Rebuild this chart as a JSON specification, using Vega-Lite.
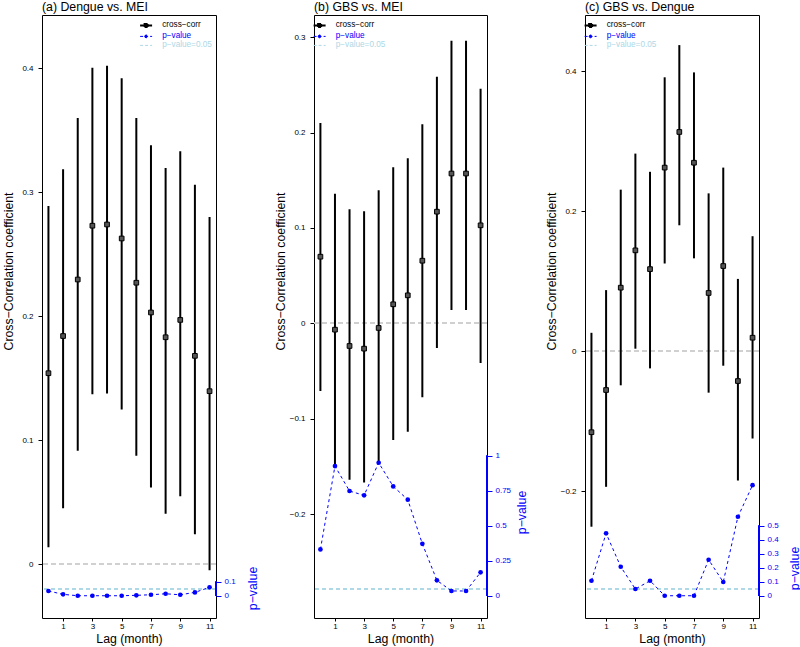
{
  "$schema": "https://vega.github.io/schema/vega-lite/v6.json",
  "padding": {"left": 1, "top": 0, "right": 0, "bottom": 0},
  "background": "white",
  "datasets": {
    "a": [
      {"lag": 0, "r": 0.154, "lo": 0.0135, "hi": 0.289, "p": 0.034},
      {"lag": 1, "r": 0.184, "lo": 0.045, "hi": 0.3185, "p": 0.010},
      {"lag": 2, "r": 0.2296, "lo": 0.0914, "hi": 0.360, "p": 0.0},
      {"lag": 3, "r": 0.273, "lo": 0.137, "hi": 0.4005, "p": 0.0},
      {"lag": 4, "r": 0.274, "lo": 0.1377, "hi": 0.402, "p": 0.0},
      {"lag": 5, "r": 0.2627, "lo": 0.1247, "hi": 0.392, "p": 0.0},
      {"lag": 6, "r": 0.227, "lo": 0.0874, "hi": 0.360, "p": 0.003},
      {"lag": 7, "r": 0.203, "lo": 0.0618, "hi": 0.338, "p": 0.007},
      {"lag": 8, "r": 0.183, "lo": 0.0406, "hi": 0.3196, "p": 0.014},
      {"lag": 9, "r": 0.197, "lo": 0.0548, "hi": 0.333, "p": 0.007},
      {"lag": 10, "r": 0.168, "lo": 0.024, "hi": 0.306, "p": 0.024},
      {"lag": 11, "r": 0.1395, "lo": -0.005, "hi": 0.280, "p": 0.06}
    ],
    "b": [
      {"lag": 0, "r": 0.0698, "lo": -0.071, "hi": 0.21, "p": 0.331},
      {"lag": 1, "r": -0.0067, "lo": -0.149, "hi": 0.1359, "p": 0.926},
      {"lag": 2, "r": -0.0238, "lo": -0.164, "hi": 0.1195, "p": 0.748},
      {"lag": 3, "r": -0.0266, "lo": -0.167, "hi": 0.1174, "p": 0.717},
      {"lag": 4, "r": -0.0049, "lo": -0.145, "hi": 0.1394, "p": 0.95},
      {"lag": 5, "r": 0.0199, "lo": -0.1223, "hi": 0.1635, "p": 0.781},
      {"lag": 6, "r": 0.0293, "lo": -0.1136, "hi": 0.173, "p": 0.686},
      {"lag": 7, "r": 0.0656, "lo": -0.0776, "hi": 0.2086, "p": 0.371},
      {"lag": 8, "r": 0.117, "lo": -0.026, "hi": 0.2585, "p": 0.11},
      {"lag": 9, "r": 0.157, "lo": 0.0139, "hi": 0.2962, "p": 0.034},
      {"lag": 10, "r": 0.157, "lo": 0.0139, "hi": 0.2962, "p": 0.034},
      {"lag": 11, "r": 0.1027, "lo": -0.0416, "hi": 0.246, "p": 0.167}
    ],
    "c": [
      {"lag": 0, "r": -0.116, "lo": -0.251, "hi": 0.026, "p": 0.107},
      {"lag": 1, "r": -0.0557, "lo": -0.194, "hi": 0.087, "p": 0.446},
      {"lag": 2, "r": 0.0905, "lo": -0.049, "hi": 0.2305, "p": 0.207},
      {"lag": 3, "r": 0.1438, "lo": 0.0033, "hi": 0.282, "p": 0.048},
      {"lag": 4, "r": 0.117, "lo": -0.0248, "hi": 0.256, "p": 0.107},
      {"lag": 5, "r": 0.262, "lo": 0.125, "hi": 0.391, "p": 0.0},
      {"lag": 6, "r": 0.3129, "lo": 0.1796, "hi": 0.437, "p": 0.0},
      {"lag": 7, "r": 0.269, "lo": 0.1324, "hi": 0.398, "p": 0.0},
      {"lag": 8, "r": 0.0829, "lo": -0.0595, "hi": 0.2252, "p": 0.257},
      {"lag": 9, "r": 0.1214, "lo": -0.021, "hi": 0.262, "p": 0.098},
      {"lag": 10, "r": -0.0429, "lo": -0.185, "hi": 0.103, "p": 0.564},
      {"lag": 11, "r": 0.019, "lo": -0.125, "hi": 0.164, "p": 0.79}
    ]
  },
  "hconcat": [
    {
      "width": 174, "height": 603,
      "title": {"text": "(a) Dengue vs. MEI", "anchor": "start", "frame": "group", "fontSize": 12.3, "fontWeight": "normal", "baseline": "alphabetic", "offset": -8, "color": "black"},
      "data": {"name": "a"},
      "layer": [
        {"layer": [
          {"mark": {"type": "rule", "color": "#d0d0d0", "strokeDash": [5, 3], "strokeWidth": 1},
           "encoding": {"y": {"datum": 0, "type": "quantitative"}}},
          {"mark": {"type": "rule", "strokeWidth": 2},
           "encoding": {
             "x": {"field": "lag", "type": "quantitative", "scale": {"domain": [-0.44, 11.44], "nice": false, "zero": false},
                   "axis": {"values": [1, 3, 5, 7, 9, 11], "format": "d", "title": "Lag (month)", "tickSize": 3, "labelPadding": 1, "titleY": 24.5, "titleBaseline": "alphabetic", "labelOverlap": false, "labelFlush": false, "labelBound": false}},
             "y": {"field": "lo", "type": "quantitative", "scale": {"domain": [-0.0435, 0.443], "nice": false, "zero": false},
                   "axis": {"values": [0, 0.1, 0.2, 0.3, 0.4], "format": ".1~f", "title": "Cross−Correlation coefficient", "titleX": -34, "titleY": 256, "titleAlign": "center", "titleBaseline": "middle", "tickSize": 4, "labelPadding": 5, "labelOverlap": false, "labelColor": "black", "tickColor": "black", "titleColor": "black"}},
             "y2": {"field": "hi"},
             "color": {"datum": "cross−corr", "type": "nominal",
                       "scale": {"domain": ["cross−corr", "p−value", "p−value=0.05"], "range": ["black", "blue", "#add8e6"]},
                       "legend": {"orient": "none", "legendX": 100, "legendY": 6.3, "title": null, "direction": "vertical", "labelFontSize": 8.2, "symbolSize": 100, "rowPadding": 0, "labelOffset": 12,
                         "encode": {
                           "symbols": {"update": {
                             "shape": {"signal": "datum.value === 'cross−corr' ? 'M-1.2,0H1.2M-0.3,-0.3H0.3V0.3H-0.3Z' : datum.value === 'p−value' ? 'M-1.2,0H1.2M-0.28,0A0.28,0.28 0 1,1 0.28,0A0.28,0.28 0 1,1 -0.28,0Z' : 'M-1.2,0H1.2'"},
                             "fill": {"signal": "datum.value === 'cross−corr' ? '#555555' : datum.value === 'p−value' ? 'blue' : 'transparent'"},
                             "stroke": {"signal": "datum.value === 'cross−corr' ? 'black' : datum.value === 'p−value' ? 'blue' : '#add8e6'"},
                             "strokeWidth": {"signal": "datum.value === 'cross−corr' ? 2 : 1"},
                             "strokeDash": {"signal": "datum.value === 'cross−corr' ? [1,0] : [3,2]"},
                             "size": {"value": 100},
                             "opacity": {"value": 1}
                           }},
                           "labels": {"update": {"fill": {"signal": "datum.value === 'cross−corr' ? 'black' : datum.value === 'p−value' ? 'blue' : '#add8e6'"}}}
                         }}}
           }},
          {"mark": {"type": "point", "shape": "square", "filled": true, "fill": "#555555", "stroke": "black", "strokeWidth": 1, "size": 22, "opacity": 1},
           "encoding": {"x": {"field": "lag", "type": "quantitative", "axis": {"values": [1, 3, 5, 7, 9, 11], "format": "d", "title": "Lag (month)", "tickSize": 3, "labelPadding": 1, "titleY": 24.5, "titleBaseline": "alphabetic", "labelOverlap": false, "labelFlush": false, "labelBound": false}}, "y": {"field": "r", "type": "quantitative"}}}
        ]},
        {"layer": [
          {"mark": {"type": "rule", "strokeDash": [4, 3], "strokeWidth": 1},
           "encoding": {"y": {"datum": 0.05, "type": "quantitative"}, "color": {"datum": "p−value=0.05", "type": "nominal"}}},
          {"mark": {"type": "line", "strokeDash": [3, 3], "strokeWidth": 1},
           "encoding": {
             "x": {"field": "lag", "type": "quantitative", "axis": {"values": [1, 3, 5, 7, 9, 11], "format": "d", "title": "Lag (month)", "tickSize": 3, "labelPadding": 1, "titleY": 24.5, "titleBaseline": "alphabetic", "labelOverlap": false, "labelFlush": false, "labelBound": false}},
             "y": {"field": "p", "type": "quantitative", "scale": {"domain": [-0.159, 4.148], "nice": false, "zero": false},
                   "axis": {"orient": "right", "values": [0, 0.1], "format": ".2~f", "title": "p−value", "titleColor": "blue", "titleAngle": 270, "titleX": 36.5, "titleY": 573, "titleAlign": "center", "titleBaseline": "middle", "labelColor": "blue", "tickColor": "blue", "tickSize": 5, "labelPadding": 3, "labelOverlap": false}},
             "color": {"datum": "p−value", "type": "nominal"}}},
          {"mark": {"type": "point", "filled": true, "color": "blue", "size": 22, "opacity": 1},
           "encoding": {"x": {"field": "lag", "type": "quantitative", "axis": {"values": [1, 3, 5, 7, 9, 11], "format": "d", "title": "Lag (month)", "tickSize": 3, "labelPadding": 1, "titleY": 24.5, "titleBaseline": "alphabetic", "labelOverlap": false, "labelFlush": false, "labelBound": false}}, "y": {"field": "p", "type": "quantitative"}}},
          {"mark": {"type": "rule", "color": "blue", "strokeWidth": 1},
           "encoding": {"x": {"datum": 11.44, "type": "quantitative", "axis": {"values": [1, 3, 5, 7, 9, 11], "format": "d", "title": "Lag (month)", "tickSize": 3, "labelPadding": 1, "titleY": 24.5, "titleBaseline": "alphabetic", "labelOverlap": false, "labelFlush": false, "labelBound": false}}, "y": {"datum": 0, "type": "quantitative"}, "y2": {"datum": 0.1}}}
        ]}
      ],
      "resolve": {"scale": {"y": "independent"}}
    },
    {
      "width": 173, "height": 603,
      "title": {"text": "(b) GBS vs. MEI", "anchor": "start", "frame": "group", "fontSize": 12.3, "fontWeight": "normal", "baseline": "alphabetic", "offset": -8, "color": "black"},
      "data": {"name": "b"},
      "layer": [
        {"layer": [
          {"mark": {"type": "rule", "color": "#d0d0d0", "strokeDash": [5, 3], "strokeWidth": 1},
           "encoding": {"y": {"datum": 0, "type": "quantitative"}}},
          {"mark": {"type": "rule", "strokeWidth": 2},
           "encoding": {
             "x": {"field": "lag", "type": "quantitative", "scale": {"domain": [-0.44, 11.44], "nice": false, "zero": false},
                   "axis": {"values": [1, 3, 5, 7, 9, 11], "format": "d", "title": "Lag (month)", "tickSize": 3, "labelPadding": 1, "titleY": 24.5, "titleBaseline": "alphabetic", "labelOverlap": false, "labelFlush": false, "labelBound": false}},
             "y": {"field": "lo", "type": "quantitative", "scale": {"domain": [-0.309, 0.3232], "nice": false, "zero": false},
                   "axis": {"values": [-0.2, -0.1, 0, 0.1, 0.2, 0.3], "format": ".1~f", "title": "Cross−Correlation coefficient", "titleX": -34, "titleY": 256, "titleAlign": "center", "titleBaseline": "middle", "tickSize": 4, "labelPadding": 5, "labelOverlap": false, "labelColor": "black", "tickColor": "black", "titleColor": "black"}},
             "y2": {"field": "hi"},
             "color": {"datum": "cross−corr", "type": "nominal",
                       "scale": {"domain": ["cross−corr", "p−value", "p−value=0.05"], "range": ["black", "blue", "#add8e6"]},
                       "legend": {"orient": "none", "legendX": 1.5, "legendY": 6.3, "title": null, "direction": "vertical", "labelFontSize": 8.2, "symbolSize": 100, "rowPadding": 0, "labelOffset": 12,
                         "encode": {
                           "symbols": {"update": {
                             "shape": {"signal": "datum.value === 'cross−corr' ? 'M-1.2,0H1.2M-0.3,-0.3H0.3V0.3H-0.3Z' : datum.value === 'p−value' ? 'M-1.2,0H1.2M-0.28,0A0.28,0.28 0 1,1 0.28,0A0.28,0.28 0 1,1 -0.28,0Z' : 'M-1.2,0H1.2'"},
                             "fill": {"signal": "datum.value === 'cross−corr' ? '#555555' : datum.value === 'p−value' ? 'blue' : 'transparent'"},
                             "stroke": {"signal": "datum.value === 'cross−corr' ? 'black' : datum.value === 'p−value' ? 'blue' : '#add8e6'"},
                             "strokeWidth": {"signal": "datum.value === 'cross−corr' ? 2 : 1"},
                             "strokeDash": {"signal": "datum.value === 'cross−corr' ? [1,0] : [3,2]"},
                             "size": {"value": 100},
                             "opacity": {"value": 1}
                           }},
                           "labels": {"update": {"fill": {"signal": "datum.value === 'cross−corr' ? 'black' : datum.value === 'p−value' ? 'blue' : '#add8e6'"}}}
                         }}}
           }},
          {"mark": {"type": "point", "shape": "square", "filled": true, "fill": "#555555", "stroke": "black", "strokeWidth": 1, "size": 22, "opacity": 1},
           "encoding": {"x": {"field": "lag", "type": "quantitative", "axis": {"values": [1, 3, 5, 7, 9, 11], "format": "d", "title": "Lag (month)", "tickSize": 3, "labelPadding": 1, "titleY": 24.5, "titleBaseline": "alphabetic", "labelOverlap": false, "labelFlush": false, "labelBound": false}}, "y": {"field": "r", "type": "quantitative"}}}
        ]},
        {"layer": [
          {"mark": {"type": "rule", "strokeDash": [4, 3], "strokeWidth": 1},
           "encoding": {"y": {"datum": 0.05, "type": "quantitative"}, "color": {"datum": "p−value=0.05", "type": "nominal"}}},
          {"mark": {"type": "line", "strokeDash": [3, 3], "strokeWidth": 1},
           "encoding": {
             "x": {"field": "lag", "type": "quantitative", "axis": {"values": [1, 3, 5, 7, 9, 11], "format": "d", "title": "Lag (month)", "tickSize": 3, "labelPadding": 1, "titleY": 24.5, "titleBaseline": "alphabetic", "labelOverlap": false, "labelFlush": false, "labelBound": false}},
             "y": {"field": "p", "type": "quantitative", "scale": {"domain": [-0.159, 4.148], "nice": false, "zero": false},
                   "axis": {"orient": "right", "values": [0, 0.25, 0.5, 0.75, 1], "format": ".2~f", "title": "p−value", "titleColor": "blue", "titleAngle": 270, "titleX": 34, "titleY": 497, "titleAlign": "center", "titleBaseline": "middle", "labelColor": "blue", "tickColor": "blue", "tickSize": 5, "labelPadding": 3, "labelOverlap": false}},
             "color": {"datum": "p−value", "type": "nominal"}}},
          {"mark": {"type": "point", "filled": true, "color": "blue", "size": 22, "opacity": 1},
           "encoding": {"x": {"field": "lag", "type": "quantitative", "axis": {"values": [1, 3, 5, 7, 9, 11], "format": "d", "title": "Lag (month)", "tickSize": 3, "labelPadding": 1, "titleY": 24.5, "titleBaseline": "alphabetic", "labelOverlap": false, "labelFlush": false, "labelBound": false}}, "y": {"field": "p", "type": "quantitative"}}},
          {"mark": {"type": "rule", "color": "blue", "strokeWidth": 1},
           "encoding": {"x": {"datum": 11.44, "type": "quantitative", "axis": {"values": [1, 3, 5, 7, 9, 11], "format": "d", "title": "Lag (month)", "tickSize": 3, "labelPadding": 1, "titleY": 24.5, "titleBaseline": "alphabetic", "labelOverlap": false, "labelFlush": false, "labelBound": false}}, "y": {"datum": 0, "type": "quantitative"}, "y2": {"datum": 1}}}
        ]}
      ],
      "resolve": {"scale": {"y": "independent"}}
    },
    {
      "width": 174, "height": 603,
      "title": {"text": "(c) GBS vs. Dengue", "anchor": "start", "frame": "group", "fontSize": 12.3, "fontWeight": "normal", "baseline": "alphabetic", "offset": -8, "color": "black"},
      "data": {"name": "c"},
      "layer": [
        {"layer": [
          {"mark": {"type": "rule", "color": "#d0d0d0", "strokeDash": [5, 3], "strokeWidth": 1},
           "encoding": {"y": {"datum": 0, "type": "quantitative"}}},
          {"mark": {"type": "rule", "strokeWidth": 2},
           "encoding": {
             "x": {"field": "lag", "type": "quantitative", "scale": {"domain": [-0.44, 11.44], "nice": false, "zero": false},
                   "axis": {"values": [1, 3, 5, 7, 9, 11], "format": "d", "title": "Lag (month)", "tickSize": 3, "labelPadding": 1, "titleY": 24.5, "titleBaseline": "alphabetic", "labelOverlap": false, "labelFlush": false, "labelBound": false}},
             "y": {"field": "lo", "type": "quantitative", "scale": {"domain": [-0.3814, 0.48], "nice": false, "zero": false},
                   "axis": {"values": [-0.2, 0, 0.2, 0.4], "format": ".1~f", "title": "Cross−Correlation coefficient", "titleX": -34, "titleY": 256, "titleAlign": "center", "titleBaseline": "middle", "tickSize": 4, "labelPadding": 5, "labelOverlap": false, "labelColor": "black", "tickColor": "black", "titleColor": "black"}},
             "y2": {"field": "hi"},
             "color": {"datum": "cross−corr", "type": "nominal",
                       "scale": {"domain": ["cross−corr", "p−value", "p−value=0.05"], "range": ["black", "blue", "#add8e6"]},
                       "legend": {"orient": "none", "legendX": 1.5, "legendY": 6.3, "title": null, "direction": "vertical", "labelFontSize": 8.2, "symbolSize": 100, "rowPadding": 0, "labelOffset": 12,
                         "encode": {
                           "symbols": {"update": {
                             "shape": {"signal": "datum.value === 'cross−corr' ? 'M-1.2,0H1.2M-0.3,-0.3H0.3V0.3H-0.3Z' : datum.value === 'p−value' ? 'M-1.2,0H1.2M-0.28,0A0.28,0.28 0 1,1 0.28,0A0.28,0.28 0 1,1 -0.28,0Z' : 'M-1.2,0H1.2'"},
                             "fill": {"signal": "datum.value === 'cross−corr' ? '#555555' : datum.value === 'p−value' ? 'blue' : 'transparent'"},
                             "stroke": {"signal": "datum.value === 'cross−corr' ? 'black' : datum.value === 'p−value' ? 'blue' : '#add8e6'"},
                             "strokeWidth": {"signal": "datum.value === 'cross−corr' ? 2 : 1"},
                             "strokeDash": {"signal": "datum.value === 'cross−corr' ? [1,0] : [3,2]"},
                             "size": {"value": 100},
                             "opacity": {"value": 1}
                           }},
                           "labels": {"update": {"fill": {"signal": "datum.value === 'cross−corr' ? 'black' : datum.value === 'p−value' ? 'blue' : '#add8e6'"}}}
                         }}}
           }},
          {"mark": {"type": "point", "shape": "square", "filled": true, "fill": "#555555", "stroke": "black", "strokeWidth": 1, "size": 22, "opacity": 1},
           "encoding": {"x": {"field": "lag", "type": "quantitative", "axis": {"values": [1, 3, 5, 7, 9, 11], "format": "d", "title": "Lag (month)", "tickSize": 3, "labelPadding": 1, "titleY": 24.5, "titleBaseline": "alphabetic", "labelOverlap": false, "labelFlush": false, "labelBound": false}}, "y": {"field": "r", "type": "quantitative"}}}
        ]},
        {"layer": [
          {"mark": {"type": "rule", "strokeDash": [4, 3], "strokeWidth": 1},
           "encoding": {"y": {"datum": 0.05, "type": "quantitative"}, "color": {"datum": "p−value=0.05", "type": "nominal"}}},
          {"mark": {"type": "line", "strokeDash": [3, 3], "strokeWidth": 1},
           "encoding": {
             "x": {"field": "lag", "type": "quantitative", "axis": {"values": [1, 3, 5, 7, 9, 11], "format": "d", "title": "Lag (month)", "tickSize": 3, "labelPadding": 1, "titleY": 24.5, "titleBaseline": "alphabetic", "labelOverlap": false, "labelFlush": false, "labelBound": false}},
             "y": {"field": "p", "type": "quantitative", "scale": {"domain": [-0.159, 4.148], "nice": false, "zero": false},
                   "axis": {"orient": "right", "values": [0, 0.1, 0.2, 0.3, 0.4, 0.5], "format": ".2~f", "title": "p−value", "titleColor": "blue", "titleAngle": 270, "titleX": 35, "titleY": 553, "titleAlign": "center", "titleBaseline": "middle", "labelColor": "blue", "tickColor": "blue", "tickSize": 5, "labelPadding": 3, "labelOverlap": false}},
             "color": {"datum": "p−value", "type": "nominal"}}},
          {"mark": {"type": "point", "filled": true, "color": "blue", "size": 22, "opacity": 1},
           "encoding": {"x": {"field": "lag", "type": "quantitative", "axis": {"values": [1, 3, 5, 7, 9, 11], "format": "d", "title": "Lag (month)", "tickSize": 3, "labelPadding": 1, "titleY": 24.5, "titleBaseline": "alphabetic", "labelOverlap": false, "labelFlush": false, "labelBound": false}}, "y": {"field": "p", "type": "quantitative"}}},
          {"mark": {"type": "rule", "color": "blue", "strokeWidth": 1},
           "encoding": {"x": {"datum": 11.44, "type": "quantitative", "axis": {"values": [1, 3, 5, 7, 9, 11], "format": "d", "title": "Lag (month)", "tickSize": 3, "labelPadding": 1, "titleY": 24.5, "titleBaseline": "alphabetic", "labelOverlap": false, "labelFlush": false, "labelBound": false}}, "y": {"datum": 0, "type": "quantitative"}, "y2": {"datum": 0.5}}}
        ]}
      ],
      "resolve": {"scale": {"y": "independent"}}
    }
  ],
  "spacing": 98,
  "bounds": "flush",
  "resolve": {"scale": {"color": "independent"}, "legend": {"color": "independent"}},
  "config": {
    "font": "Liberation Sans",
    "view": {"stroke": "black", "strokeWidth": 1},
    "axis": {"grid": false, "domain": false, "labelFontSize": 8, "titleFontSize": 12.3, "titleFontWeight": "normal", "labelColor": "black", "titleColor": "black", "tickColor": "black", "labelFlush": false, "labelOverlap": false}
  }
}
